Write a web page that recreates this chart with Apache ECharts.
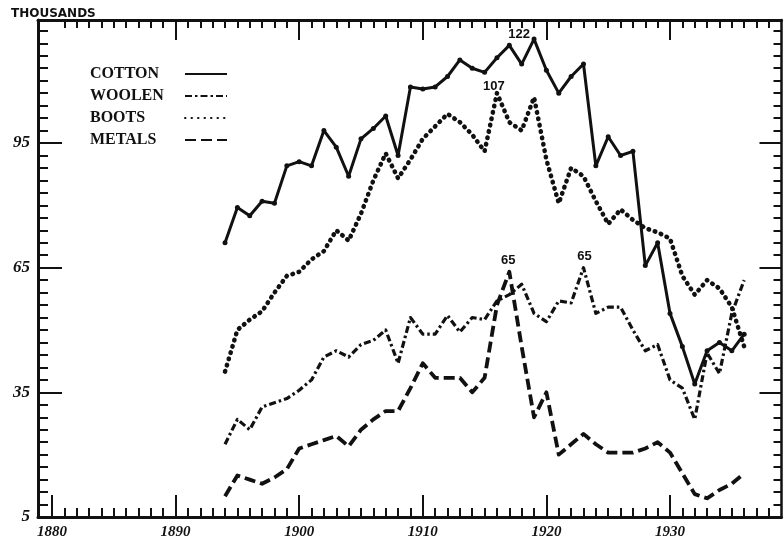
<!DOCTYPE html>
<html><head><meta charset="utf-8">
<script src="https://cdn.jsdelivr.net/npm/echarts@6/dist/echarts.min.js"></script>
<style>html,body{margin:0;padding:0;background:#fff}#c{width:784px;height:543px}</style>
</head><body><div id="c"></div>
<script>
// ---- data ----
const years = [1894,1895,1896,1897,1898,1899,1900,1901,1902,1903,1904,1905,1906,1907,1908,1909,
  1910,1911,1912,1913,1914,1915,1916,1917,1918,1919,1920,1921,1922,1923,1924,1925,1926,1927,1928,1929,
  1930,1931,1932,1933,1934,1935,1936];
const cotton = [71,79.5,77.5,81,80.5,89.5,90.5,89.5,98,94,87,96,98.5,101.5,92,108.5,
  108,108.5,111,115,113,112,115.5,118.5,114,120,112.5,107,111,114,89.5,96.5,92,93,65.5,71,
  54,46,37,45,47,45,49];
const woolen = [22.5,28.5,26,31.5,32.5,33.5,35.5,38,43.5,45,43.5,46.5,47.5,50,42,53,
  49,49,53.5,49.5,53,52.5,57,58.5,61,54,52,57,56.5,65,54,55.5,55.5,50,45,46.5,
  38,36,28.5,44.5,39.5,54,62];
const boots = [40,50,52.5,54.5,59,63,64,67,69,74,71.5,78,86,92.5,86.5,91,
  96,99,102,100,97,93,107,100,98,106,91,80.5,89,87,81,75.5,79,76.5,74.5,73.5,
  72,63,58.5,62,60,55.5,46];
const metals = [10,15,14,13,14.5,16.5,21.5,22.5,23.5,24.5,22,26,28.5,30.5,30.5,36,
  42,38.5,38.5,38.5,35,38.5,56,64,46,29,35,20,22.5,25,22.5,20.5,20.5,20.5,21.5,23,
  20.5,15.5,10.5,9.5,11.5,13,15.5];
const seriesNames = ['COTTON','WOOLEN','BOOTS','METALS'];
const xTickLabels = [1880,1890,1900,1910,1920,1930];
const yTickLabels = [5,35,65,95];
const yearStep = 1;   // minor tick step on the time axis
const unitStep = 3;   // minor tick step on the value axis
// peak annotations written on the chart
const annotations = [
  {series:'COTTON', year:1919, text:'122'},
  {series:'BOOTS', year:1916, text:'107'},
  {series:'METALS', year:1917, text:'65'},
  {series:'WOOLEN', year:1923, text:'65'}
];

const X_MIN = 1878.87, X_MAX = 1939.02, Y_MIN = 5, Y_MAX = 124.6;

const xMinor = [];
for (let y = 1881; y <= 1938; y += yearStep) if (xTickLabels.indexOf(y) < 0) xMinor.push(y);
const yMinor = [];
for (let v = 8; v <= 122; v += unitStep) if (yTickLabels.indexOf(v) < 0) yMinor.push(v);
const yMajor = yTickLabels.filter(v => v !== Y_MIN);

const ink = '#111';
function xAx(pos, ticks, len, line, labels) {
  return {
    type:'value', position:pos, min:X_MIN, max:X_MAX, gridIndex:0,
    splitLine:{show:false},
    axisLine:{show:line, onZero:false, lineStyle:{color:ink, width:3}},
    axisTick:{show:true, inside:true, length:len, customValues:ticks, lineStyle:{color:ink, width:2}},
    axisLabel: labels ? {show:true, customValues:labels, margin:8, color:ink,
      formatter: v => String(v),
      fontFamily:'Liberation Serif', fontStyle:'italic', fontWeight:'bold', fontSize:15} : {show:false}
  };
}
function yAx(pos, ticks, len, line, labels) {
  return {
    type:'value', position:pos, min:Y_MIN, max:Y_MAX, gridIndex:0,
    splitLine:{show:false},
    axisLine:{show:line, onZero:false, lineStyle:{color:ink, width:pos==='left'?3:2.5}},
    axisTick:{show:true, inside:true, length:len, customValues:ticks, lineStyle:{color:ink, width:2}},
    axisLabel: labels ? {show:true, customValues:labels, margin:8, color:ink,
      formatter: v => String(v),
      fontFamily:'Liberation Serif', fontStyle:'italic', fontWeight:'bold', fontSize:17} : {show:false}
  };
}

const values = {COTTON:cotton, WOOLEN:woolen, BOOTS:boots, METALS:metals};
const styles = {
  COTTON:{width:3, type:'solid'},
  WOOLEN:{width:3.2, type:[7,3,2.5,3]},
  BOOTS:{width:4.6, type:[0.5,6], cap:'round'},
  METALS:{width:3.8, type:[11,5]}
};
const labelOffset = {COTTON:[-15,4], BOOTS:[-3,2], METALS:[-1,-2], WOOLEN:[1,-2]};

const series = seriesNames.map(name => {
  const arr = values[name];
  const ann = annotations.filter(a => a.series === name);
  return {
    name, type:'line', xAxisIndex:0, yAxisIndex:0,
    data: years.map((y,i) => [y, arr[i]]),
    showSymbol: name === 'COTTON',
    symbol:'circle', symbolSize: name === 'COTTON' ? 5 : 0,
    itemStyle:{color:ink},
    lineStyle:{color:ink, width:styles[name].width, type:styles[name].type, cap:styles[name].cap || 'butt', join:'round'},
    markPoint:{
      symbol:'circle', symbolSize:1, itemStyle:{color:'rgba(0,0,0,0)'},
      label:{show:true, position:'top', distance:2, offset:labelOffset[name], color:ink,
        fontFamily:'Liberation Sans', fontWeight:'bold', fontSize:13,
        formatter: p => p.data.txt},
      data: ann.map(a => ({coord:[a.year, arr[years.indexOf(a.year)]], txt:a.text}))
    }
  };
});

const chart = echarts.init(document.getElementById('c'), null, {renderer:'canvas'});
chart.setOption({
  animation:false,
  backgroundColor:'#fff',
  title:{text:'THOUSANDS', left:6, top:3,
    textStyle:{fontFamily:'DejaVu Sans', fontWeight:'bold', fontSize:12, color:ink}},
  grid:{left:38, right:2.5, top:20, bottom:26, containLabel:false},
  legend:{
    orient:'vertical', left:85, top:61, align:'right',
    itemWidth:42, itemHeight:14, itemGap:6,
    itemStyle:{opacity:0},
    data:seriesNames,
    formatter: n => '{a|' + n + '}',
    textStyle:{color:ink, rich:{a:{width:90, align:'left', lineHeight:14,
      fontFamily:'Liberation Serif', fontWeight:'bold', fontSize:16, color:ink}}}
  },
  xAxis:[
    xAx('bottom', xMinor, 9, true, xTickLabels),
    xAx('bottom', xTickLabels, 22, false, null),
    xAx('top', xMinor, 8, true, null),
    xAx('top', xTickLabels.filter(v => v > 1880), 20, false, null)
  ],
  yAxis:[
    yAx('left', yMinor, 10, true, yTickLabels),
    yAx('left', yMajor, 24, false, null),
    yAx('right', yMinor, 8, true, null),
    yAx('right', yMajor, 22, false, null)
  ],
  series
});
</script></body></html>
